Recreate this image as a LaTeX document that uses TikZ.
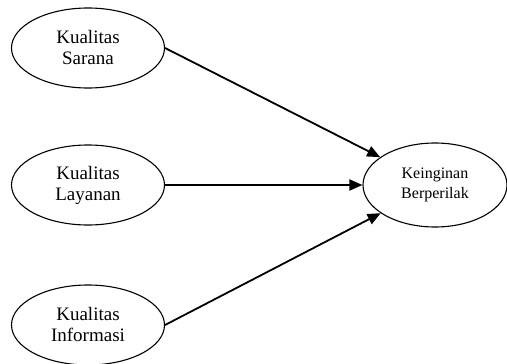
\documentclass[tikz,border=0pt]{standalone}
\usepackage{fontspec}
\setmainfont{Liberation Serif}
\usetikzlibrary{arrows.meta, shapes.geometric}
\tikzset{
  >={Triangle[length=13pt, width=11pt]},
  var/.style={ellipse, draw=black, line width=1.1pt, minimum width=153pt,
              minimum height=80pt, align=center, inner sep=0pt, font=\fontsize{19}{21}\selectfont},
  dep/.style={var, minimum width=144pt, minimum height=84pt, font=\fontsize{16}{20}\selectfont},
  link/.style={->, line width=1.8pt, draw=black},
}
\begin{document}
\begin{tikzpicture}[x=1pt,y=-1pt]
  \useasboundingbox (0,0) rectangle (507,364);
  % exogenous variables
  \node[var] (sarana) at (88,48) {Kualitas\\Sarana};
  \node[var] (layanan) at (88,185) {Kualitas\\Layanan};
  \node[var] (informasi) at (88,325) {Kualitas\\Informasi};
  % endogenous variable
  \node[dep] (keinginan) at (435,185) {Keinginan\\Berperilak};
  \draw[link] (sarana.east) -- (keinginan);
  \draw[link] (layanan) -- (keinginan);
  \draw[link] (informasi.east) -- (keinginan);
\end{tikzpicture}
\end{document}
